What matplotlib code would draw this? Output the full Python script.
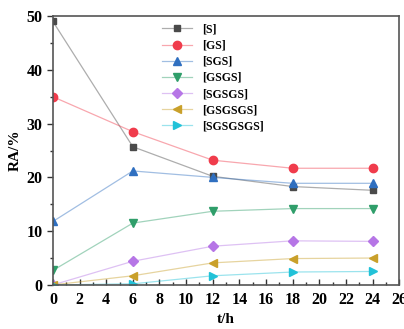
import matplotlib
matplotlib.use("Agg")
import matplotlib.pyplot as plt
from matplotlib.colors import to_rgba
from matplotlib.ticker import MultipleLocator

plt.rcParams['font.family'] = ['Liberation Serif', 'DejaVu Serif']
plt.rcParams['font.weight'] = 'bold'

t = [0, 6, 12, 18, 24]
labels = ['[S]', '[GS]', '[SGS]', '[GSGS]', '[SGSGS]', '[GSGSGS]', '[SGSGSGS]']
S = [49.0, 25.7, 20.2, 18.3, 17.6]
GS = [35.0, 28.5, 23.2, 21.7, 21.7]
SGS = [11.8, 21.2, 20.0, 18.9, 18.9]
GSGS = [2.7, 11.5, 13.7, 14.2, 14.2]
SGSGS = [0.0, 4.4, 7.2, 8.2, 8.1]
GSGSGS = [0.0, 1.7, 4.1, 4.9, 5.0]
SGSGSGS = [0.0, 0.2, 1.7, 2.4, 2.5]
series = [S, GS, SGS, GSGS, SGSGS, GSGSGS, SGSGSGS]

colors = ['#4a4a4a', '#f03c4c', '#2f6fc0', '#2f9e6a', '#b676e6', '#c9a02a', '#22c2d8']
markers = ['s', 'o', '^', 'v', 'D', '<', '>']
msizes = [5, 6, 6, 6, 5, 6, 6]

fig = plt.figure(figsize=(4.04, 3.29), dpi=100)
ax = fig.add_axes([0.131, 0.134, 0.857, 0.817])

for y, lab, c, m, ms in zip(series, labels, colors, markers, msizes):
    ax.plot(t, y, color=to_rgba(c, 0.45), lw=0.9, label=lab,
            marker=m, markersize=ms, markerfacecolor=c, markeredgecolor=c)

ax.set_xlim(0, 26)
ax.set_ylim(0, 50)
ax.xaxis.set_major_locator(MultipleLocator(2))
ax.xaxis.set_minor_locator(MultipleLocator(1))
ax.yaxis.set_major_locator(MultipleLocator(10))
ax.yaxis.set_minor_locator(MultipleLocator(5))
ax.tick_params(axis='both', which='major', labelsize=11.5, length=4, width=1, color='#333333')
ax.tick_params(axis='both', which='minor', length=2.5, width=1, color='#333333')
ax.tick_params(axis='x', which='both', direction='in', pad=5)
ax.tick_params(axis='y', which='both', direction='out')
for sp in ax.spines.values():
    sp.set_linewidth(1.2)
    sp.set_color('#555555')
for lab in ax.get_xticklabels() + ax.get_yticklabels():
    lab.set_fontweight('bold')

ax.set_xlabel('t/h', fontsize=11, fontweight='bold', labelpad=4)
ax.set_ylabel('RA/%', fontsize=11, fontweight='bold', labelpad=3)

ax.legend(loc='upper left', bbox_to_anchor=(0.30, 0.99), frameon=False,
          prop={'size': 8.5, 'weight': 'bold'}, handlelength=2.6,
          labelspacing=0.35, borderaxespad=0)

fig.savefig('out.png', dpi=100)
